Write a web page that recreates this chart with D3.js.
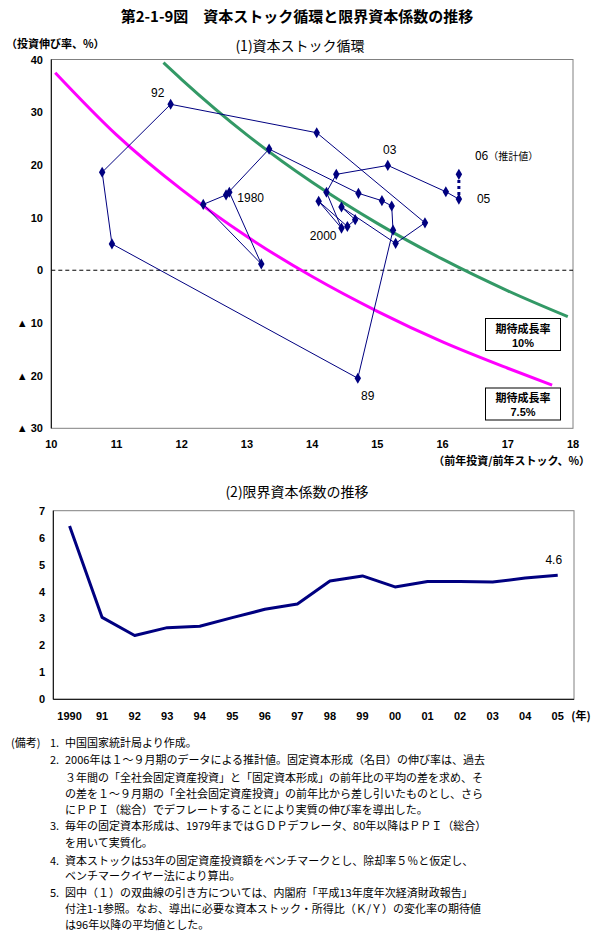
<!DOCTYPE html>
<html>
<head>
<meta charset="utf-8">
<script src="https://cdn.jsdelivr.net/npm/d3@7"></script>
<style>
  body { margin: 0; background: #fff; }
  svg { display: block; font-family: "Liberation Sans", Arial, "Noto Sans CJK JP", sans-serif; }
  .jp { font-family: "Noto Sans CJK JP", sans-serif; }
</style>
</head>
<body>
<svg id="chart" width="594" height="941"></svg>
<script>
// (1) capital stock cycle: x = prior-year investment / prior-year stock (%), y = real investment growth (%)
var cycleYears = ['1980', '81', '82', '83', '84', '85', '86', '87', '88', '89', '90', '91', '92',
    '93', '94', '95', '96', '97', '98', '99', '2000', '01', '02', '03', '04', '05'];
var stockRatio = [12.73, 13.22, 12.33, 12.68, 13.34, 14.71, 15.07, 15.22, 15.24, 14.70, 10.93, 10.78, 11.83,
    14.07, 15.73, 15.28, 14.45, 14.66, 14.54, 14.10, 14.45, 14.22, 14.37, 15.16, 16.05, 16.25];
var investGrowth = [14.8, 1.2, 12.5, 14.3, 23.0, 14.6, 13.2, 12.2, 7.6, -20.5, 5.0, 18.6, 31.5,
    26.1, 9.0, 5.1, 12.0, 9.6, 8.3, 13.1, 8.0, 14.8, 18.2, 19.9, 14.9, 13.5];
var estimate06 = [16.25, 18.2];   // 2006 (1-9 month estimate)

// hyperbolas
var curve10X = [11.72, 12, 13, 14, 15, 16, 17, 17.92];
var curve10Y = [39.4, 36.2, 25.7, 16.7, 8.9, 2.1, -3.9, -8.8];
var curve75X = [10.06, 11, 12, 13, 14, 15, 16, 17, 17.68];
var curve75Y = [37.5, 25.7, 15.3, 6.4, -1.2, -7.8, -13.6, -18.6, -21.8];

var xTicks1 = [10, 11, 12, 13, 14, 15, 16, 17, 18];
var yTicks1 = [40, 30, 20, 10, 0, -10, -20, -30];

// (2) marginal capital coefficient
var icorYears = ['1990', '91', '92', '93', '94', '95', '96', '97', '98', '99', '00', '01', '02', '03', '04', '05'];
var icor = [6.43, 3.04, 2.37, 2.66, 2.71, 3.03, 3.34, 3.54, 4.39, 4.58, 4.17, 4.37, 4.37, 4.35, 4.5, 4.6];
var yTicks2 = [0, 1, 2, 3, 4, 5, 6, 7];

var notes = [
    ['(備考)', '1.', '中国国家統計局より作成。'],
    ['', '2.', '2006年は１～９月期のデータによる推計値。固定資本形成（名目）の伸び率は、過去'],
    ['', '', '３年間の「全社会固定資産投資」と「固定資本形成」の前年比の平均の差を求め、そ'],
    ['', '', 'の差を１～９月期の「全社会固定資産投資」の前年比から差し引いたものとし、さら'],
    ['', '', 'にＰＰＩ（総合）でデフレートすることにより実質の伸び率を導出した。'],
    ['', '3.', '毎年の固定資本形成は、1979年まではＧＤＰデフレータ、80年以降はＰＰＩ（総合）'],
    ['', '', 'を用いて実質化。'],
    ['', '4.', '資本ストックは53年の固定資産投資額をベンチマークとし、除却率５％と仮定し、'],
    ['', '', 'ベンチマークイヤー法により算出。'],
    ['', '5.', '図中（１）の双曲線の引き方については、内閣府「平成13年度年次経済財政報告」'],
    ['', '', '付注1-1参照。なお、導出に必要な資本ストック・所得比（Ｋ/Ｙ）の変化率の期待値'],
    ['', '', 'は96年以降の平均値とした。']
];
var noteY = [747, 764, 782, 798, 814, 830, 847, 865, 880, 897, 913, 929];

var navy = '#000080';
var svg = d3.select('#chart');

svg.append('text').attr('class', 'jp').attr('x', 297).attr('y', 22)
    .attr('text-anchor', 'middle').attr('font-size', 15).attr('font-weight', 'bold')
    .text('第2-1-9図　資本ストック循環と限界資本係数の推移');

// ---------- chart 1 ----------
var x1 = d3.scaleLinear().domain([10, 18]).range([51.3, 573]);
var y1 = d3.scaleLinear().domain([-30, 40]).range([428.3, 59.5]);

svg.append('text').attr('class', 'jp').attr('x', 300).attr('y', 51)
    .attr('text-anchor', 'middle').attr('font-size', 14).text('(1)資本ストック循環');
svg.append('text').attr('class', 'jp').attr('x', 6).attr('y', 48)
    .attr('font-size', 11).attr('font-weight', 'bold').text('（投資伸び率、%）');

svg.append('rect').attr('x', x1(10)).attr('y', y1(40))
    .attr('width', x1(18) - x1(10)).attr('height', y1(-30) - y1(40))
    .attr('fill', 'none').attr('stroke', '#808080');
svg.append('line').attr('x1', x1(10)).attr('x2', x1(10)).attr('y1', y1(40)).attr('y2', y1(-30))
    .attr('stroke', '#000');
svg.append('line').attr('x1', x1(10)).attr('x2', x1(18)).attr('y1', y1(0)).attr('y2', y1(0))
    .attr('stroke', '#000').attr('stroke-dasharray', '4,3');

svg.selectAll('.ytick1').data(yTicks1).enter().append('text')
    .attr('x', 43).attr('y', function(d) { return y1(d) + 4; })
    .attr('text-anchor', 'end').attr('font-size', 11).attr('font-weight', 'bold')
    .text(function(d) { return d < 0 ? '▲ ' + (-d) : d; });
svg.selectAll('.xtick1').data(xTicks1).enter().append('text')
    .attr('x', function(d) { return x1(d); }).attr('y', 448)
    .attr('text-anchor', 'middle').attr('font-size', 11).attr('font-weight', 'bold')
    .text(function(d) { return d; });
svg.append('text').attr('class', 'jp').attr('x', 590).attr('y', 465)
    .attr('text-anchor', 'end').attr('font-size', 11).attr('font-weight', 'bold')
    .text('（前年投資/前年ストック、%）');

var curveLine = d3.line().curve(d3.curveMonotoneX)
    .x(function(d) { return x1(d[0]); }).y(function(d) { return y1(d[1]); });
svg.append('path').datum(d3.zip(curve75X, curve75Y)).attr('d', curveLine)
    .attr('fill', 'none').attr('stroke', '#ff00ff').attr('stroke-width', 3);
svg.append('path').datum(d3.zip(curve10X, curve10Y)).attr('d', curveLine)
    .attr('fill', 'none').attr('stroke', '#339966').attr('stroke-width', 3);

var cycle = d3.zip(stockRatio, investGrowth);
svg.append('path').datum(cycle)
    .attr('d', d3.line().x(function(d) { return x1(d[0]); }).y(function(d) { return y1(d[1]); }))
    .attr('fill', 'none').attr('stroke', navy).attr('stroke-width', 1);
svg.append('line')
    .attr('x1', x1(stockRatio[25])).attr('y1', y1(investGrowth[25]) - 4)
    .attr('x2', x1(estimate06[0])).attr('y2', y1(estimate06[1]) + 4)
    .attr('stroke', navy).attr('stroke-width', 3).attr('stroke-dasharray', '3,3');

var diamond = d3.symbol().type(d3.symbolDiamond).size(36);
svg.selectAll('.pt').data(cycle.concat([estimate06])).enter().append('path')
    .attr('d', diamond)
    .attr('transform', function(d) { return 'translate(' + x1(d[0]) + ',' + y1(d[1]) + ')'; })
    .attr('fill', navy);

function ptLabel(i, dx, dy, txt, anchor) {
    var p = cycle[i];
    svg.append('text').attr('x', x1(p[0]) + dx).attr('y', y1(p[1]) + dy)
        .attr('text-anchor', anchor).attr('font-size', 12)
        .text(txt);
}
ptLabel(0, 8, 10, cycleYears[0], 'start');
ptLabel(9, 10, 22, cycleYears[9], 'middle');
ptLabel(12, -13, -7, cycleYears[12], 'middle');
ptLabel(20, -5, 12, cycleYears[20], 'end');
ptLabel(23, 2, -11, cycleYears[23], 'middle');
ptLabel(25, 18, 4, cycleYears[25], 'start');
svg.append('text').attr('class', 'jp').attr('x', x1(estimate06[0]) + 16).attr('y', y1(estimate06[1]) - 14)
    .attr('font-size', 12).text('06')
    .append('tspan').attr('font-size', 10).text('（推計値）');

function growthBox(x, y, rate) {
    svg.append('rect').attr('x', x).attr('y', y).attr('width', 75).attr('height', 32)
        .attr('fill', '#fff').attr('stroke', '#000');
    svg.append('text').attr('class', 'jp').attr('x', x + 37.5).attr('y', y + 14)
        .attr('text-anchor', 'middle').attr('font-size', 11).attr('font-weight', 'bold').text('期待成長率');
    svg.append('text').attr('x', x + 37.5).attr('y', y + 28)
        .attr('text-anchor', 'middle').attr('font-size', 11).attr('font-weight', 'bold').text(rate);
}
growthBox(485.5, 318.5, '10%');
growthBox(485.5, 388, '7.5%');

// ---------- chart 2 ----------
var x2 = d3.scaleBand().domain(icorYears).range([53.3, 574]);
var y2 = d3.scaleLinear().domain([0, 7]).range([699.3, 510.7]);

svg.append('text').attr('class', 'jp').attr('x', 297).attr('y', 497)
    .attr('text-anchor', 'middle').attr('font-size', 14).text('(2)限界資本係数の推移');

svg.append('rect').attr('x', 53.3).attr('y', y2(7)).attr('width', 574 - 53.3).attr('height', y2(0) - y2(7))
    .attr('fill', 'none').attr('stroke', '#808080');
svg.append('path').attr('d', 'M53.3,' + y2(7) + 'V' + y2(0) + 'H574')
    .attr('fill', 'none').attr('stroke', '#000');

svg.selectAll('.ytick2').data(yTicks2).enter().append('text')
    .attr('x', 45).attr('y', function(d) { return y2(d) + 4; })
    .attr('text-anchor', 'end').attr('font-size', 11).attr('font-weight', 'bold')
    .text(function(d) { return d; });
svg.selectAll('.xtick2').data(icorYears).enter().append('text')
    .attr('x', function(d) { return x2(d) + x2.bandwidth() / 2; }).attr('y', 720)
    .attr('text-anchor', 'middle').attr('font-size', 11).attr('font-weight', 'bold')
    .text(function(d) { return d; });
svg.append('text').attr('class', 'jp').attr('x', 581).attr('y', 720)
    .attr('text-anchor', 'middle').attr('font-size', 11).attr('font-weight', 'bold').text('(年)');

svg.append('path').datum(d3.zip(icorYears, icor))
    .attr('d', d3.line().x(function(d) { return x2(d[0]) + x2.bandwidth() / 2; })
        .y(function(d) { return y2(d[1]); }))
    .attr('fill', 'none').attr('stroke', navy).attr('stroke-width', 3).attr('stroke-linejoin', 'round');
svg.append('text').attr('x', x2('05') + x2.bandwidth() / 2 - 4).attr('y', y2(icor[15]) - 11)
    .attr('text-anchor', 'middle').attr('font-size', 12).text(icor[15].toFixed(1));

// ---------- notes ----------
var noteRows = svg.selectAll('.note').data(notes).enter().append('g').attr('class', 'jp')
    .attr('font-size', 11);
noteRows.filter(function(d) { return d[0]; }).append('text')
    .attr('x', 11).attr('y', noteY[0])
    .text(function(d) { return d[0]; });
noteRows.append('text').attr('x', 50).attr('y', function(d, i) { return noteY[i]; })
    .text(function(d) { return d[1]; });
noteRows.append('text').attr('x', 65).attr('y', function(d, i) { return noteY[i]; })
    .text(function(d) { return d[2]; });
</script>
</body>
</html>
